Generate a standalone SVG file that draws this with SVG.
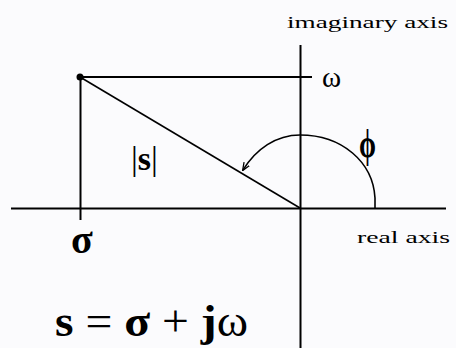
<svg xmlns="http://www.w3.org/2000/svg" width="456" height="348" viewBox="0 0 456 348">
<style>
.ln{stroke:#000;stroke-width:2;fill:none}
.thin{stroke:#000;stroke-width:1.6;fill:none}
.t{font-family:"Liberation Serif","DejaVu Serif",serif;fill:#000}
</style>
<defs>
<marker id="ah" viewBox="0 0 10 10" refX="9" refY="5" markerWidth="8" markerHeight="8" markerUnits="userSpaceOnUse" orient="auto">
<path d="M0,1 L10,5 L0,9" fill="none" stroke="#000" stroke-width="1.6"/>
</marker>
</defs>
<rect width="456" height="348" fill="#fbfbfd"/>
<g id="connectors">
<line class="ln" x1="11" y1="208.5" x2="446" y2="208.5"/>
<line class="ln" x1="300.5" y1="45" x2="300.5" y2="348"/>
<line class="ln" x1="80" y1="77" x2="312" y2="77"/>
<line class="ln" x1="80.5" y1="77" x2="80.5" y2="220"/>
<line class="thin" x1="80" y1="77" x2="300" y2="208"/>
<path class="thin" d="M375,208 L375,198 C373,162 342,135 300,135 C276,135 256,149 243,170" marker-end="url(#ah)"/>
</g>
<g id="point"><circle cx="80" cy="77" r="3.5" fill="#000"/></g>
<g id="imag-label"><text class="t" x="287" y="28" font-size="16" textLength="161" lengthAdjust="spacingAndGlyphs">imaginary axis</text></g>
<g id="real-label"><text class="t" x="357" y="243" font-size="16" textLength="93" lengthAdjust="spacingAndGlyphs">real axis</text></g>
<g id="omega"><text class="t" x="322" y="87" font-size="29">ω</text></g>
<g id="phi"><text class="t" x="359" y="157" font-size="40" font-weight="bold" textLength="17" lengthAdjust="spacingAndGlyphs">ϕ</text></g>
<g id="mag"><text class="t" x="131" y="170" font-size="34"><tspan>|</tspan><tspan font-weight="bold">s</tspan><tspan>|</tspan></text></g>
<g id="sigma"><text class="t" x="71" y="253" font-size="40" font-weight="bold">σ</text></g>
<g id="formula"><text class="t" x="55" y="336" font-size="44" textLength="193" lengthAdjust="spacingAndGlyphs"><tspan font-weight="bold">s</tspan> = <tspan font-weight="bold">σ</tspan> + <tspan font-weight="bold">j</tspan>ω</text></g>
</svg>
